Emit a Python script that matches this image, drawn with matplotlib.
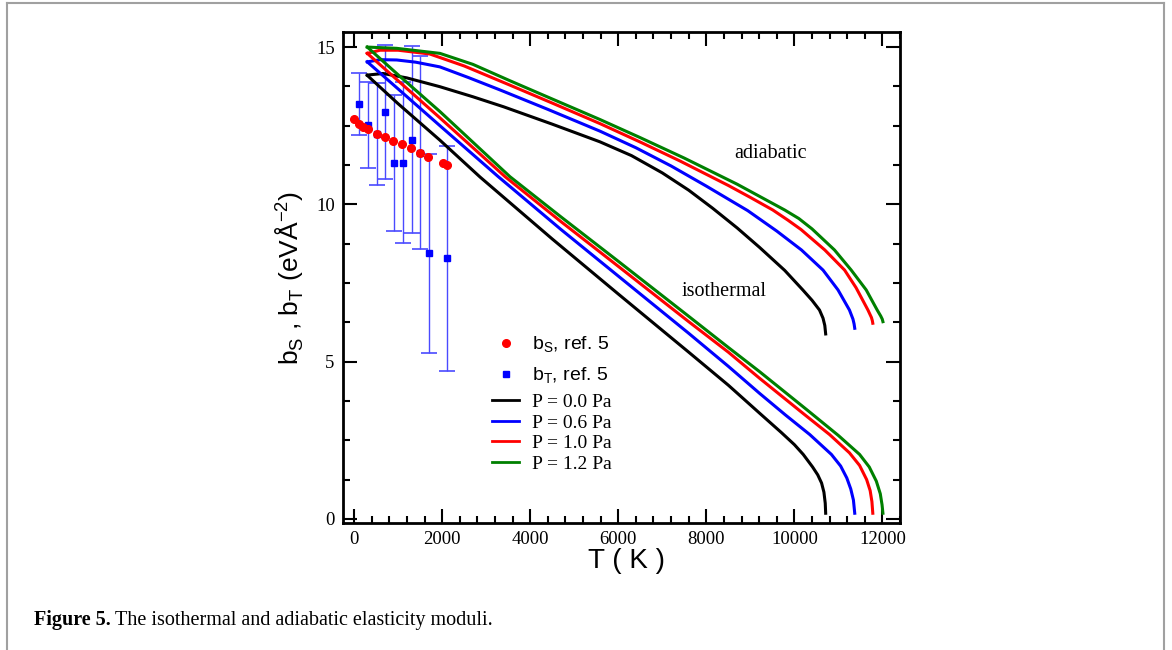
import matplotlib.pyplot as plt
from matplotlib.lines import Line2D
from matplotlib.ticker import MultipleLocator

# curves for P = 0.0, 0.6, 1.0, 1.2 Pa : temperature (K) and modulus (eV/A^2)
pressures = ["0.0", "0.6", "1.0", "1.2"]
colors = ["black", "blue", "red", "green"]

adia_T_00 = [300, 660, 1200, 1950, 2700, 3400, 4500, 5580, 6300, 7000, 7600, 8140, 8700,
             9210, 9780, 10190, 10400, 10570, 10650, 10690, 10710]
adia_b_00 = [14.11, 14.16, 14.02, 13.74, 13.42, 13.1, 12.55, 11.99, 11.55, 11.0, 10.45, 9.88, 9.25,
             8.63, 7.9, 7.28, 6.95, 6.64, 6.38, 6.15, 5.88]
adia_T_06 = [300, 600, 970, 1400, 1950, 2600, 3310, 4400, 5580, 6400, 7200, 8000, 8940, 9600,
             10160, 10650, 10990, 11250, 11330, 11355, 11370]
adia_b_06 = [14.53, 14.6, 14.59, 14.52, 14.37, 14.03, 13.64, 13.02, 12.33, 11.8, 11.22, 10.58, 9.8,
             9.15, 8.55, 7.91, 7.28, 6.64, 6.35, 6.2, 6.06]
adia_T_10 = [300, 590, 1000, 1720, 2500, 3540, 4500, 5580, 6500, 7400, 8500, 9000, 9510, 9850,
             10150, 10690, 11140, 11400, 11670, 11750, 11770, 11780]
adia_b_10 = [14.8, 14.9, 14.9, 14.78, 14.4, 13.79, 13.22, 12.57, 11.98, 11.38, 10.6, 10.22, 9.82,
             9.5, 9.2, 8.55, 7.91, 7.35, 6.64, 6.4, 6.3, 6.22]
adia_T_12 = [300, 970, 1950, 2700, 3540, 4500, 5580, 6500, 7500, 8700, 9780, 10100, 10400, 10910,
             11290, 11630, 11880, 11960, 11995, 12010]
adia_b_12 = [15.0, 14.96, 14.8, 14.45, 13.93, 13.35, 12.7, 12.12, 11.47, 10.64, 9.82, 9.55, 9.22,
             8.55, 7.91, 7.28, 6.64, 6.45, 6.35, 6.27]

iso_T_00 = [300, 1000, 1950, 2860, 4500, 6000, 7600, 8500, 9210, 9700, 10000, 10200, 10413,
            10530, 10617, 10670, 10700, 10710]
iso_b_00 = [14.1, 13.2, 12.04, 10.87, 8.9, 7.15, 5.3, 4.25, 3.36, 2.75, 2.36, 2.05, 1.65,
            1.4, 1.14, 0.85, 0.5, 0.18]
iso_T_06 = [300, 1000, 1950, 3275, 4700, 6000, 7600, 8500, 9210, 9800, 10350, 10840, 11050,
            11190, 11280, 11340, 11370]
iso_b_06 = [14.53, 13.67, 12.5, 10.88, 9.2, 7.72, 5.9, 4.85, 3.99, 3.3, 2.68, 2.05, 1.68,
            1.3, 0.95, 0.6, 0.18]
iso_T_10 = [300, 1000, 1950, 3430, 4700, 6000, 7600, 8500, 9210, 10200, 10800, 11250, 11480,
            11640, 11720, 11760, 11780]
iso_b_10 = [14.8, 13.93, 12.75, 10.88, 9.45, 8.03, 6.27, 5.3, 4.47, 3.35, 2.68, 2.1, 1.7,
            1.25, 0.9, 0.55, 0.18]
iso_T_12 = [300, 1000, 1950, 3540, 4700, 6000, 7600, 8500, 9210, 10300, 11000, 11480, 11700,
            11860, 11950, 11990, 12010]
iso_b_12 = [15.0, 14.12, 12.95, 10.88, 9.6, 8.19, 6.44, 5.45, 4.68, 3.45, 2.65, 2.05, 1.65,
            1.2, 0.8, 0.45, 0.18]

# experimental points, ref. 5
bs_T = [0, 121, 212, 325, 514, 703, 892, 1081, 1293, 1497, 1686, 2026, 2103]
bs_val = [12.70, 12.55, 12.47, 12.38, 12.23, 12.13, 12.02, 11.92, 11.78, 11.64, 11.49, 11.30, 11.25]
bt_T = [121, 310, 514, 703, 908, 1104, 1308, 1497, 1701, 2103]
bt_val = [13.19, 12.52, 12.23, 12.94, 11.32, 11.32, 12.06, 11.64, 8.44, 8.28]
bt_err = [0.98, 1.38, 1.62, 2.14, 2.17, 2.56, 2.98, 3.07, 3.17, 3.57]

adia = [(adia_T_00, adia_b_00), (adia_T_06, adia_b_06), (adia_T_10, adia_b_10), (adia_T_12, adia_b_12)]
iso = [(iso_T_00, iso_b_00), (iso_T_06, iso_b_06), (iso_T_10, iso_b_10), (iso_T_12, iso_b_12)]

serif = "Liberation Serif"
sans = "Liberation Sans"

fig = plt.figure(figsize=(11.72, 6.5), dpi=100)
ax = fig.add_axes([0.2927, 0.1954, 0.4753, 0.7554])

ax.errorbar(bt_T, bt_val, yerr=bt_err, fmt="s", color="blue", ms=4.5, ecolor="#4a4aff",
            elinewidth=1.0, capsize=6, capthick=1.2, zorder=2)
ax.errorbar(bs_T, bs_val, xerr=90, fmt="o", color="red", ms=5.5, ecolor="#ff8080",
            elinewidth=2.0, capsize=0, zorder=3)

for (Ta, ba), (Ti, bi), c in zip(adia, iso, colors):
    ax.plot(Ta, ba, color=c, lw=2.2, zorder=4, solid_joinstyle="round")
    ax.plot(Ti, bi, color=c, lw=2.2, zorder=4, solid_joinstyle="round")

ax.set_xlim(-250, 12400)
ax.set_ylim(-0.13, 15.48)
ax.xaxis.set_major_locator(MultipleLocator(2000))
ax.xaxis.set_minor_locator(MultipleLocator(400))
ax.yaxis.set_major_locator(MultipleLocator(5))
ax.yaxis.set_minor_locator(MultipleLocator(1.25))
ax.tick_params(which="both", direction="in", top=True, right=True, width=1.5)
ax.tick_params(which="major", length=10, pad=6, labelsize=13.5)
ax.tick_params(which="minor", length=5)
for lab in ax.get_xticklabels() + ax.get_yticklabels():
    lab.set_fontfamily(serif)
for sp in ax.spines.values():
    sp.set_linewidth(2)

ax.set_xlabel("T ( K )", fontfamily=sans, fontsize=20)
ax.xaxis.set_label_coords(0.508, -0.05)
ax.set_ylabel(r"b$_\mathregular{S}$ , b$_\mathregular{T}$ (eVÅ$^\mathregular{-2}$)",
              fontfamily=sans, fontsize=19)
ax.yaxis.set_label_coords(-0.066, 0.5)

ax.text(9460, 11.63, "adiabatic", fontfamily=serif, fontsize=14.5, ha="center", va="center")
ax.text(8394, 7.24, "isothermal", fontfamily=serif, fontsize=14.5, ha="center", va="center")

mark_handles = [Line2D([], [], ls="none", marker="o", color="red", ms=5.5),
                Line2D([], [], ls="none", marker="s", color="blue", ms=4)]
leg1 = ax.legend(mark_handles, [r"b$_\mathregular{S}$, ref. 5", r"b$_\mathregular{T}$, ref. 5"],
                 loc="upper left", bbox_to_anchor=(0.2675, 0.384), frameon=False,
                 borderpad=0, borderaxespad=0, handlelength=1.4, handletextpad=0.65,
                 labelspacing=0.55, prop={"family": sans, "size": 14})
ax.add_artist(leg1)

line_handles = [Line2D([], [], color=c, lw=2) for c in colors]
ax.legend(line_handles, [f"P = {p} Pa" for p in pressures],
          loc="upper left", bbox_to_anchor=(0.2675, 0.264), frameon=False,
          borderpad=0, borderaxespad=0, handlelength=1.4, handletextpad=0.65,
          labelspacing=0.15, prop={"family": serif, "size": 14})

cap1 = fig.text(0.029, 0.046, "Figure 5.", fontfamily=serif, fontweight="bold",
                fontsize=14.5, va="center")
fig.canvas.draw()
x1 = fig.transFigure.inverted().transform(
    (cap1.get_window_extent(fig.canvas.get_renderer()).x1 + 4, 0))[0]
fig.text(x1, 0.046, "The isothermal and adiabatic elasticity moduli.",
         fontfamily=serif, fontsize=14.5, va="center")

# page frame
fig.add_artist(Line2D([0.006, 0.006], [0, 0.995], color="#a0a0a0", lw=1.5))
fig.add_artist(Line2D([0.006, 0.993], [0.995, 0.995], color="#a0a0a0", lw=1.5))
fig.add_artist(Line2D([0.993, 0.993], [0, 0.995], color="#a0a0a0", lw=1.5))

fig.savefig("out.png", dpi=100)
